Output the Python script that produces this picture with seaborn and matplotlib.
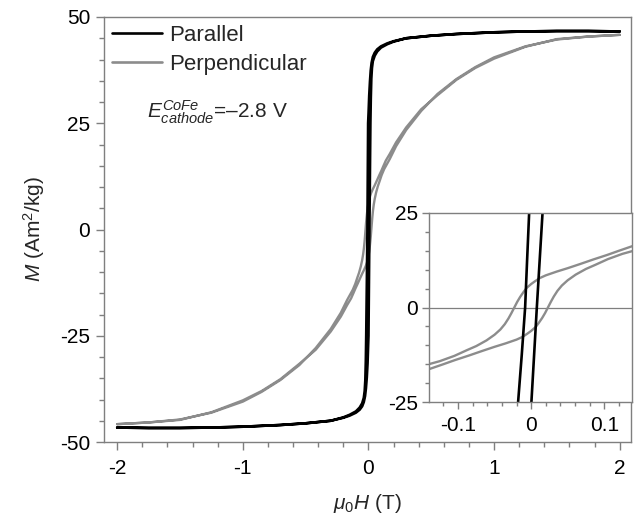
import matplotlib
matplotlib.use("Agg")
import matplotlib.pyplot as plt
import numpy as np
import pandas as pd
import seaborn as sns
from matplotlib.ticker import MultipleLocator
from matplotlib.lines import Line2D

# ---------------- data ----------------
# Parallel (black): descending branch (+2 T -> -2 T)
H_par_desc = [2.0, 1.75, 1.5, 1.25, 1.0, 0.7, 0.5, 0.3, 0.2, 0.15, 0.1, 0.07, 0.05, 0.035,
              0.025, 0.018, 0.012, 0.006, 0.001, -0.0027, -0.0055, -0.0082, -0.0128, -0.0178,
              -0.021, -0.025, -0.03, -0.037, -0.05, -0.07, -0.1, -0.15, -0.2, -0.3,
              -0.5, -0.7, -1.0, -1.25, -1.5, -1.75, -2.0]
M_par_desc = [46.6, 46.7, 46.7, 46.6, 46.4, 46.0, 45.6, 45.0, 44.3, 43.8, 43.1, 42.4, 41.6, 40.6,
              39.2, 37.4, 34.8, 31.5, 27.5, 25.0, 12.5, 0.0, -12.5, -25.0,
              -31.0, -35.5, -38.0, -39.6, -40.9, -41.9, -42.8, -43.6, -44.2, -45.0,
              -45.6, -46.0, -46.4, -46.6, -46.7, -46.7, -46.6]
# Parallel (black): ascending branch (-2 T -> +2 T)
H_par_asc = [-2.0, -1.75, -1.5, -1.25, -1.0, -0.7, -0.5, -0.3, -0.2, -0.15, -0.1, -0.07, -0.05, -0.037,
             -0.027, -0.02, -0.013, -0.007, -0.0025, 0.0004, 0.0041, 0.0078, 0.0117, 0.0156,
             0.019, 0.023, 0.028, 0.035, 0.05, 0.07, 0.1, 0.15, 0.2, 0.3,
             0.5, 0.7, 1.0, 1.25, 1.5, 1.75, 2.0]
M_par_asc = [-46.6, -46.7, -46.7, -46.6, -46.4, -46.0, -45.6, -45.0, -44.3, -43.8, -43.1, -42.4, -41.6, -40.6,
             -39.2, -37.4, -34.8, -31.5, -27.5, -25.0, -12.5, 0.0, 12.5, 25.0,
             31.0, 35.5, 38.0, 39.6, 40.9, 41.9, 42.8, 43.6, 44.2, 45.0,
             45.6, 46.0, 46.4, 46.6, 46.7, 46.7, 46.6]

# Perpendicular (grey): descending branch
H_perp_desc = [2.0, 1.75, 1.5, 1.25, 1.0, 0.85, 0.7, 0.55, 0.42, 0.3, 0.22, 0.17, 0.15, 0.138, 0.12,
               0.104, 0.085, 0.067, 0.05, 0.035, 0.02, 0.012, 0.005, 0.0, -0.006, -0.01, -0.015,
               -0.019, -0.023, -0.027, -0.031, -0.036, -0.042, -0.05, -0.061, -0.075, -0.088,
               -0.105, -0.125, -0.14, -0.17, -0.22, -0.3, -0.42, -0.55, -0.7, -0.85, -1.0,
               -1.25, -1.5, -1.75, -2.0]
M_perp_desc = [45.8, 45.4, 44.8, 43.0, 40.2, 38.0, 35.2, 31.6, 28.3, 24.0, 20.5, 17.8, 16.8, 16.2, 15.0,
               13.9, 12.7, 11.5, 10.4, 9.5, 8.5, 7.8, 6.9, 6.2, 5.2, 4.2, 2.8,
               1.5, 0.0, -1.5, -2.9, -4.4, -5.8, -7.2, -8.7, -10.2, -11.3,
               -12.8, -14.2, -15.0, -16.6, -19.6, -23.4, -27.9, -31.9, -35.4, -38.2, -40.5,
               -43.1, -44.7, -45.4, -45.8]
# Perpendicular (grey): ascending branch
H_perp_asc = [-2.0, -1.75, -1.5, -1.25, -1.0, -0.85, -0.7, -0.55, -0.42, -0.3, -0.22, -0.17, -0.15, -0.138, -0.12,
              -0.104, -0.085, -0.067, -0.05, -0.035, -0.02, -0.012, -0.005, 0.0, 0.006, 0.01, 0.015,
              0.019, 0.023, 0.027, 0.031, 0.036, 0.042, 0.05, 0.061, 0.075, 0.088,
              0.105, 0.125, 0.14, 0.17, 0.22, 0.3, 0.42, 0.55, 0.7, 0.85, 1.0,
              1.25, 1.5, 1.75, 2.0]
M_perp_asc = [-45.8, -45.4, -44.8, -43.0, -40.2, -38.0, -35.2, -31.6, -28.3, -24.0, -20.5, -17.8, -16.8, -16.2, -15.0,
              -13.9, -12.7, -11.5, -10.4, -9.5, -8.5, -7.8, -6.9, -6.2, -5.2, -4.2, -2.8,
              -1.5, 0.0, 1.5, 2.9, 4.4, 5.8, 7.2, 8.7, 10.2, 11.3,
              12.8, 14.2, 15.0, 16.6, 19.6, 23.4, 27.9, 31.9, 35.4, 38.2, 40.5,
              43.1, 44.7, 45.4, 45.8]

series_labels = ["Parallel", "Perpendicular"]
x_ticks_main = [-2, -1, 0, 1, 2]
y_ticks_main = [-50, -25, 0, 25, 50]
x_ticks_inset = [-0.1, 0, 0.1]
x_ticklabels_inset = ["-0.1", "0", "0.1"]
y_ticks_inset = [-25, 0, 25]

# ---------------- table ----------------
def loop_frame(name, Hd, Md, Ha, Ma):
    H = list(Hd) + list(Ha)
    M = list(Md) + list(Ma)
    return pd.DataFrame({"H": H, "M": M, "sample": name, "order": range(len(H))})

df_par = loop_frame(series_labels[0], H_par_desc, M_par_desc, H_par_asc, M_par_asc)
df_perp = loop_frame(series_labels[1], H_perp_desc, M_perp_desc, H_perp_asc, M_perp_asc)

# ---------------- style ----------------
sns.set_theme(style="white")
plt.rcParams["font.family"] = ["Liberation Sans", "DejaVu Sans"]
plt.rcParams["mathtext.fontset"] = "custom"
plt.rcParams["mathtext.rm"] = "Liberation Sans"
plt.rcParams["mathtext.it"] = "Liberation Sans:italic"
plt.rcParams["mathtext.bf"] = "Liberation Sans:bold"
plt.rcParams["axes.unicode_minus"] = False

BLACK = "#000000"
GREY = "#8c8c8c"
FRAME = "#7f7f7f"
FS = 15
FS_LEG = 16

fig = plt.figure(figsize=(6.37, 5.22), dpi=100)
ax = fig.add_axes([104 / 637, 80 / 522, 527 / 637, 425 / 522])

sns.lineplot(data=df_perp, x="H", y="M", color=GREY, lw=1.7, sort=False, estimator=None,
             ax=ax, label=series_labels[1])
sns.lineplot(data=df_par, x="H", y="M", color=BLACK, lw=1.9, sort=False, estimator=None,
             ax=ax, label=series_labels[0])

ax.set_xlim(-2.105, 2.09)
ax.set_ylim(-50, 50)
ax.set_xticks(x_ticks_main)
ax.set_yticks(y_ticks_main)
ax.set_xticklabels([str(v) for v in x_ticks_main])
ax.set_yticklabels([str(v) for v in y_ticks_main])
ax.xaxis.set_minor_locator(MultipleLocator(0.2))
ax.yaxis.set_minor_locator(MultipleLocator(5))

for sp in ax.spines.values():
    sp.set_color(FRAME)
    sp.set_linewidth(1.0)
ax.tick_params(which="both", direction="out", color=FRAME, width=1.0,
               top=False, right=False, left=True, bottom=True, labelsize=FS, labelcolor="black")
ax.tick_params(which="major", length=6)
ax.tick_params(which="minor", length=3.5)
ax.tick_params(axis="x", which="major", pad=6)
ax.tick_params(axis="y", which="major", pad=4)

ax.set_xlabel(r"$\mu_{\mathit{0}}H$ (T)", fontsize=FS, labelpad=10)
ax.set_ylabel(r"$M$ (Am$^2$/kg)", fontsize=FS, labelpad=9)

handles = [Line2D([], [], color=BLACK, lw=1.9), Line2D([], [], color=GREY, lw=1.9)]
ax.legend(handles, series_labels, loc="upper left", bbox_to_anchor=(0.015, 0.981),
          frameon=False, fontsize=FS_LEG, handlelength=2.25, handletextpad=0.32,
          borderpad=0.0, borderaxespad=0.0, labelspacing=0.36)

ax.text(0.082, 0.776, r"$E_{cathode}^{CoFe}$=–2.8 V", transform=ax.transAxes,
        fontsize=FS, va="center", ha="left")

# ---------------- inset ----------------
axi = fig.add_axes([429 / 637, 120 / 522, 203 / 637, 189 / 522])
axi.axhline(0, color=FRAME, lw=0.9, zorder=1)
sns.lineplot(data=df_perp, x="H", y="M", color=GREY, lw=1.7, sort=False, estimator=None,
             ax=axi, legend=False)
sns.lineplot(data=df_par, x="H", y="M", color=BLACK, lw=1.9, sort=False, estimator=None,
             ax=axi, legend=False)
axi.set_xlim(-0.1397, 0.138)
axi.set_ylim(-25, 25)
axi.set_xticks(x_ticks_inset)
axi.set_yticks(y_ticks_inset)
axi.set_xticklabels(x_ticklabels_inset)
axi.set_yticklabels([str(v) for v in y_ticks_inset])
axi.xaxis.set_minor_locator(MultipleLocator(0.02))
axi.yaxis.set_minor_locator(MultipleLocator(5))
axi.set_xlabel("")
axi.set_ylabel("")
for sp in axi.spines.values():
    sp.set_color(FRAME)
    sp.set_linewidth(1.0)
axi.tick_params(which="both", direction="out", color=FRAME, width=1.0,
                top=False, right=False, left=True, bottom=True, labelsize=FS, labelcolor="black")
axi.tick_params(which="major", length=5)
axi.tick_params(which="minor", length=3)
axi.tick_params(axis="x", which="major", pad=5)
axi.tick_params(axis="y", which="major", pad=3)
axi.set_facecolor("white")

fig.savefig("out.png", dpi=100, facecolor="white")
